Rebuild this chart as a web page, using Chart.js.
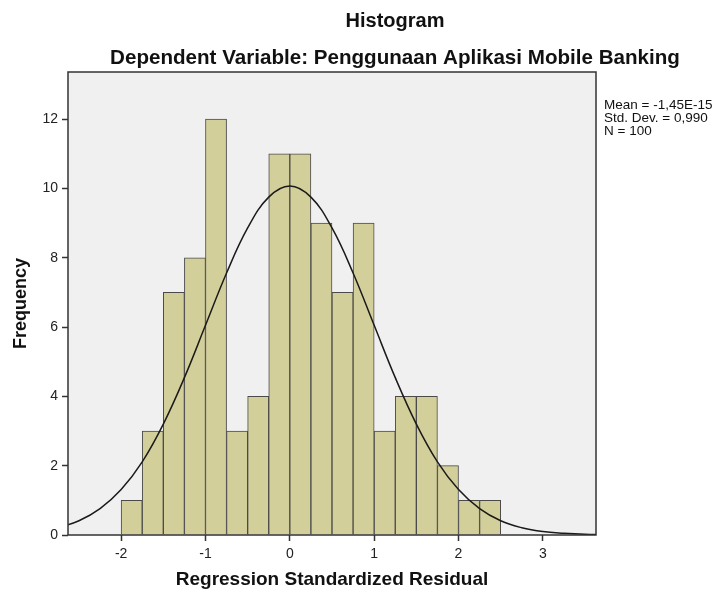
<!DOCTYPE html>
<html>
<head>
<meta charset="utf-8">
<script src="https://cdn.jsdelivr.net/npm/chart.js@4.4.0/dist/chart.umd.min.js"></script>
<style>
  html, body { margin: 0; padding: 0; background: #fff; }
  canvas { display: block; }
</style>
</head>
<body>
<canvas id="hist-chart" width="716" height="592"></canvas>
<script>
// histogram bins (lower edge of each bin) and frequencies
const binWidth = 0.25;
const binStart = [-2, -1.75, -1.5, -1.25, -1, -0.75, -0.5, -0.25, 0, 0.25, 0.5, 0.75, 1, 1.25, 1.5, 1.75, 2, 2.25];
const counts = [1, 3, 7, 8, 12, 3, 4, 11, 11, 9, 7, 9, 3, 4, 4, 2, 1, 1];

// normal curve
const curveX = [-2.75, -2.5, -2.25, -2, -1.75, -1.5, -1.25, -1, -0.75, -0.5, -0.25, 0, 0.25, 0.5, 0.75, 1, 1.25, 1.5, 1.75, 2, 2.25, 2.5, 2.75, 3, 3.25, 3.5, 3.75];
const curveY = [0.21, 0.41, 0.76, 1.31, 2.11, 3.2, 4.54, 6.05, 7.56, 8.86, 9.75, 10.07, 9.75, 8.86, 7.56, 6.05, 4.54, 3.2, 2.11, 1.31, 0.76, 0.41, 0.21, 0.1, 0.05, 0.02, 0.01];

const titleLines = ['Histogram', 'Dependent Variable: Penggunaan Aplikasi Mobile Banking'];
const statLines = ['Mean = -1,45E-15', 'Std. Dev. = 0,990', 'N = 100'];

const FONT = '"Liberation Sans", Arial, sans-serif';
Chart.defaults.font.family = FONT;
Chart.defaults.color = '#222';

const framePlugin = {
  id: 'frame',
  beforeDraw(chart) {
    const {ctx, chartArea: a} = chart;
    ctx.save();
    ctx.fillStyle = '#F0F0F0';
    ctx.fillRect(a.left, a.top, a.right - a.left, a.bottom - a.top);
    ctx.restore();
  },
  afterDraw(chart) {
    const {ctx, chartArea: a} = chart;
    ctx.save();
    ctx.strokeStyle = '#333';
    ctx.lineWidth = 1.5;
    ctx.strokeRect(a.left, a.top, a.right - a.left, a.bottom - a.top);

    ctx.fillStyle = '#111';
    ctx.textAlign = 'center';
    ctx.textBaseline = 'alphabetic';
    ctx.font = 'bold 20px ' + FONT;
    ctx.fillText(titleLines[0], 395, 27);
    ctx.font = 'bold 20.6px ' + FONT;
    ctx.fillText(titleLines[1], 395, 64);

    ctx.textAlign = 'left';
    ctx.font = '13.5px ' + FONT;
    statLines.forEach((t, i) => ctx.fillText(t, 604, 109 + i * 13));
    ctx.restore();
  }
};

const ctx = document.querySelector('#hist-chart').getContext('2d');

new Chart(ctx, {
  type: 'bar',
  data: {
    datasets: [
      {
        type: 'line',
        data: curveX.map((x, i) => ({x: x, y: curveY[i]})),
        borderColor: '#1a1a1a',
        borderWidth: 1.5,
        pointRadius: 0,
        tension: 0.4,
        fill: false,
        order: 0,
      },
      {
        type: 'bar',
        data: binStart.map((s, i) => ({x: s + binWidth / 2, y: counts[i]})),
        backgroundColor: '#D3CF9A',
        borderColor: '#4a4a4a',
        borderWidth: 1,
        barPercentage: 1,
        categoryPercentage: 1,
        order: 1,
      }
    ],
  },
  options: {
    responsive: false,
    animation: false,
    layout: {
      padding: {left: 0, top: 72, right: 120, bottom: 0},
    },
    plugins: {
      legend: {display: false},
      tooltip: {enabled: false},
    },
    scales: {
      x: {
        type: 'linear',
        min: -2.63,
        max: 3.63,
        offset: false,
        border: {display: false},
        grid: {
          offset: false,
          drawOnChartArea: false,
          tickLength: 6,
          tickColor: '#333',
          tickWidth: 1.5,
        },
        ticks: {
          stepSize: 1,
          includeBounds: false,
          padding: 5,
          font: {size: 14},
          color: '#222',
        },
        title: {
          display: true,
          text: 'Regression Standardized Residual',
          font: {size: 19, weight: 'bold'},
          color: '#111',
          padding: {top: 0, bottom: 1},
        },
        afterFit(scale) {
          scale.height = 57;
        },
      },
      y: {
        min: 0,
        max: 13.36,
        border: {display: false},
        grid: {
          drawOnChartArea: false,
          tickLength: 6,
          tickColor: '#333',
          tickWidth: 1.5,
        },
        ticks: {
          stepSize: 2,
          includeBounds: false,
          padding: 4,
          font: {size: 14},
          color: '#222',
        },
        title: {
          display: true,
          text: 'Frequency',
          font: {size: 18, weight: 'bold'},
          color: '#111',
          padding: {top: 10, bottom: 0},
        },
        afterFit(scale) {
          scale.width = 68;
        },
      },
    },
  },
  plugins: [framePlugin],
});
</script>
</body>
</html>
